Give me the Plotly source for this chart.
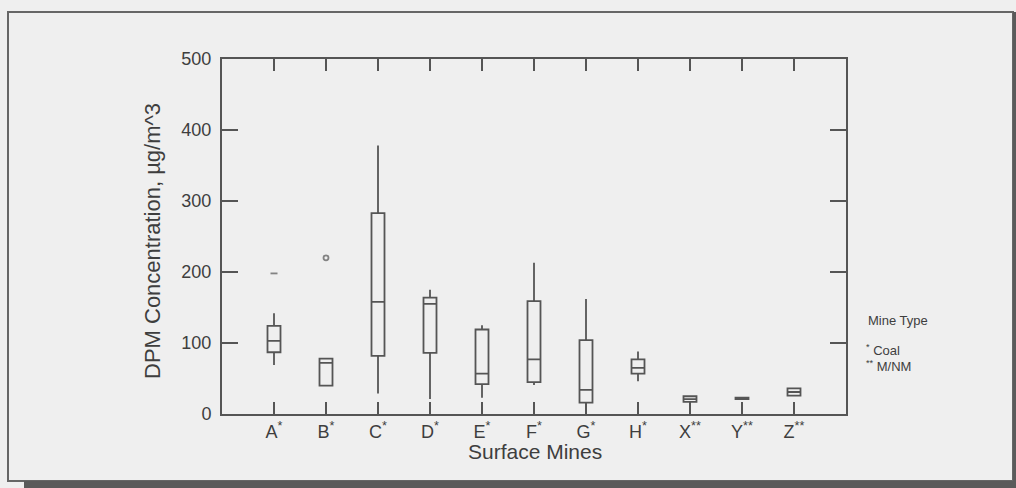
import plotly.graph_objects as go

# ---- data ----
mines = ["A", "B", "C", "D", "E", "F", "G", "H", "X", "Y", "Z"]
tick_labels = ["A<sup>*</sup>", "B<sup>*</sup>", "C<sup>*</sup>", "D<sup>*</sup>",
               "E<sup>*</sup>", "F<sup>*</sup>", "G<sup>*</sup>", "H<sup>*</sup>",
               "X<sup>**</sup>", "Y<sup>**</sup>", "Z<sup>**</sup>"]
lower_fence = [69, 40, 29, 21, 23, 41, 10, 46, 17, 21, 26]
q1_vals     = [87, 40, 82, 86, 42, 45, 16, 57, 17, 21, 26]
median_vals = [103, 72, 158, 155, 57, 77, 34, 65, 21, 22, 31]
q3_vals     = [124, 78, 283, 164, 119, 159, 104, 77, 25, 23, 36]
upper_fence = [142, 78, 378, 175, 125, 213, 162, 88, 25, 23, 36]
outlier_mine = ["A", "B"]
outlier_vals = [198, 220]
y_ticks = [0, 100, 200, 300, 400, 500]

LINE = "#555555"
TEXT = "#3e3e3e"
BG = "#efefef"
FONT = "Liberation Sans, Arial, sans-serif"

xpos = list(range(len(mines)))
fig = go.Figure()
fig.add_trace(go.Box(
    x=xpos, q1=q1_vals, median=median_vals, q3=q3_vals,
    lowerfence=lower_fence, upperfence=upper_fence,
    width=0.25, whiskerwidth=0, boxpoints=False,
    line=dict(color=LINE, width=1.8), fillcolor="rgba(0,0,0,0)",
    showlegend=False, hoverinfo="skip"))
fig.add_trace(go.Scatter(
    x=[mines.index(m) for m in outlier_mine], y=outlier_vals, mode="markers",
    marker=dict(symbol=["line-ew-open", "circle-open"], size=[5, 5], color=LINE,
                line=dict(color=LINE, width=1.8)),
    showlegend=False, hoverinfo="skip"))

# pixel -> paper helpers (plot area x 222..846, y 59..414)
def px(x):
    return (x - 222) / 624
def py(y):
    return (414 - y) / 355

shapes = [
    dict(type="rect", xref="paper", yref="paper", x0=px(8), x1=px(1013), y0=py(481), y1=py(12),
         line=dict(color="#666666", width=2), layer="below"),
    dict(type="rect", xref="paper", yref="paper", x0=px(24), x1=px(1016), y0=py(489), y1=py(481),
         line=dict(width=0), fillcolor="#5a5a5a", layer="below"),
    dict(type="rect", xref="paper", yref="paper", x0=px(1013), x1=px(1017), y0=py(489), y1=py(12),
         line=dict(width=0), fillcolor="#5a5a5a", layer="below"),
]

def note(text, x, y, size, xanchor="left", angle=0):
    return dict(text=text, xref="paper", yref="paper", x=px(x), y=py(y), xanchor=xanchor,
                yanchor="middle", showarrow=False, textangle=angle,
                font=dict(size=size, color=TEXT, family=FONT))

annotations = [
    note("Mine Type", 866, 320, 13),
    note("<sup>*</sup> Coal", 864, 350, 13),
    note("<sup>**</sup> M/NM", 864, 366, 13),
    note("Surface Mines", 535, 451, 21, xanchor="center"),
    note("DPM Concentration, µg/m^3", 152, 241, 22, xanchor="center", angle=-90),
]

fig.update_layout(
    width=1016, height=488,
    margin=dict(l=222, r=170, t=59, b=74),
    paper_bgcolor=BG, plot_bgcolor=BG,
    font=dict(family=FONT, color=TEXT),
    shapes=shapes, annotations=annotations,
    xaxis=dict(range=[-1, 11], tickvals=xpos, ticktext=tick_labels,
               showline=True, linecolor=LINE, linewidth=2, mirror="ticks",
               ticks="inside", ticklen=12, tickwidth=2, tickcolor=LINE,
               showgrid=False, zeroline=False,
               tickfont=dict(size=18, color=TEXT)),
    yaxis=dict(range=[0, 500], tickvals=y_ticks,
               showline=True, linecolor=LINE, linewidth=2, mirror="ticks",
               ticks="inside", ticklen=16, tickwidth=2, tickcolor=LINE,
               showgrid=False, zeroline=False, ticklabelstandoff=5,
               tickfont=dict(size=18, color=TEXT)),
)

fig.write_html("out.html", config={"displayModeBar": False},
               post_script="document.body.style.margin='0';document.body.style.background='#efefef';")
